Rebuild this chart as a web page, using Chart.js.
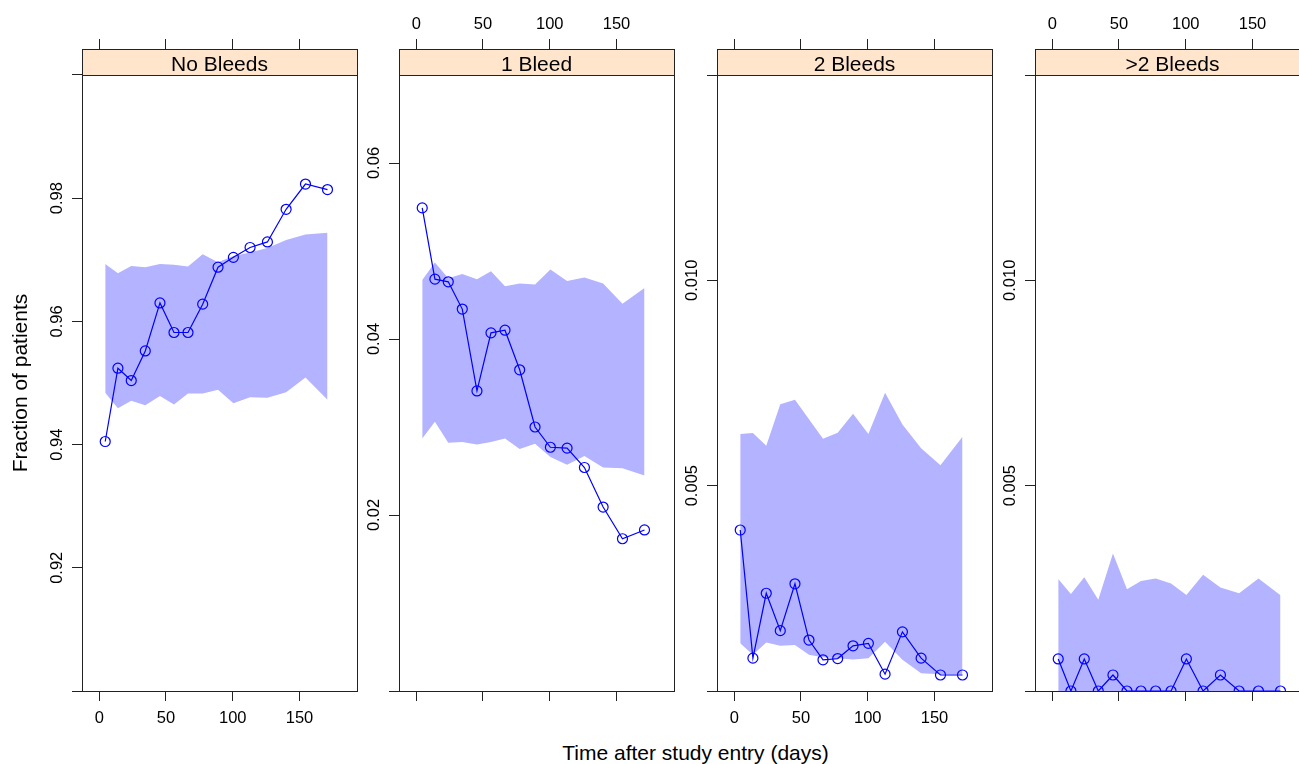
<!DOCTYPE html>
<html>
<head>
<meta charset="utf-8">
<script src="https://cdn.jsdelivr.net/npm/chart.js@4.4.1/dist/chart.umd.min.js"></script>
<style>
  html, body { margin: 0; padding: 0; background: #fff; overflow: hidden; }
  #wrap { position: relative; width: 1299px; height: 764px; overflow: hidden; }
  #wrap canvas { position: absolute; left: 0; top: 0; }
  #xtitle { position: absolute; left: 0; width: 1391px; top: 742px; text-align: center;
            font: 21px/21px "Liberation Sans", Arial, sans-serif; color: #000; }
</style>
</head>
<body>
<div id="wrap">
  <div id="xtitle">Time after study entry (days)</div>
</div>
<script>
// ---- data ----
const days = [4.5, 14, 24, 34.5, 45.5, 56, 66.5, 77.5, 89, 100.5, 113, 126, 140, 154.5, 171];
const panelNames = ['No Bleeds', '1 Bleed', '2 Bleeds', '>2 Bleeds'];

const observed1 = [0.9405, 0.9524, 0.9504, 0.9552, 0.9630, 0.9582, 0.9582, 0.9628, 0.9688, 0.9704, 0.9720, 0.9729, 0.9782, 0.9823, 0.9814];
const upper1    = [0.9693, 0.9678, 0.9690, 0.9688, 0.9693, 0.9692, 0.9689, 0.9709, 0.9696, 0.9706, 0.9712, 0.9719, 0.9732, 0.9741, 0.9744];
const lower1    = [0.9484, 0.9459, 0.9471, 0.9464, 0.9479, 0.9465, 0.9483, 0.9483, 0.9489, 0.9467, 0.9477, 0.9476, 0.9485, 0.9509, 0.9473];

const observed2 = [0.0549, 0.0468, 0.0465, 0.0434, 0.0341, 0.0407, 0.0410, 0.0365, 0.0300, 0.0277, 0.0276, 0.0254, 0.0209, 0.0173, 0.0183];
const upper2    = [0.0467, 0.0487, 0.0469, 0.0474, 0.0468, 0.0477, 0.0460, 0.0463, 0.0462, 0.0479, 0.0466, 0.0470, 0.0463, 0.0440, 0.0458];
const lower2    = [0.0287, 0.0306, 0.0282, 0.0283, 0.0280, 0.0283, 0.0287, 0.0275, 0.0281, 0.0266, 0.0257, 0.0267, 0.0254, 0.0253, 0.0245];

const observed3 = [0.00392, 0.00080, 0.00238, 0.00147, 0.00261, 0.00124, 0.00076, 0.00079, 0.00110, 0.00116, 0.00041, 0.00144, 0.00080, 0.00039, 0.00039];
const upper3    = [0.00626, 0.00628, 0.00597, 0.00698, 0.00709, 0.00662, 0.00614, 0.00629, 0.00675, 0.00626, 0.00726, 0.00649, 0.00591, 0.00550, 0.00619];
const lower3    = [0.00116, 0.00088, 0.00118, 0.00110, 0.00112, 0.00088, 0.00082, 0.00080, 0.00077, 0.00080, 0.00120, 0.00076, 0.00043, 0.00041, 0.00041];

const observed4 = [0.00078, 0, 0.00078, 0, 0.00039, 0, 0, 0, 0, 0.00078, 0, 0.00039, 0, 0, 0];
const upper4    = [0.00273, 0.00236, 0.00277, 0.00222, 0.00335, 0.00248, 0.00268, 0.00274, 0.00262, 0.00234, 0.00283, 0.00252, 0.00238, 0.00274, 0.00233];
const lower4    = [0, 0, 0, 0, 0, 0, 0, 0, 0, 0, 0, 0, 0, 0, 0];

const xRange = [-12.9, 193.1];
const xTicks = [0, 50, 100, 150];
const xTickLabels = ['0', '50', '100', '150'];

const yRange1 = [0.90, 1.00];
const yTicks1 = [0.90, 0.92, 0.94, 0.96, 0.98, 1.00];
const yTickLabels1 = ['', '0.92', '0.94', '0.96', '0.98', ''];
const yRange2 = [0, 0.07];
const yTicks2 = [0, 0.02, 0.04, 0.06];
const yTickLabels2 = ['', '0.02', '0.04', '0.06'];
const yRange34 = [0, 0.015];
const yTicks34 = [0, 0.005, 0.010, 0.015];
const yTickLabels34 = ['', '0.005', '0.010', ''];

const yTitle = 'Fraction of patients';

// ---- layout ----
const FONT = '"Liberation Sans", Arial, sans-serif';
const CANVAS_W = 1330, CANVAS_H = 764;
const panelLeft = [82, 399, 717, 1035];
const PANEL_W = 275;
const STRIP_TOP = 49, STRIP_BOTTOM = 75, PLOT_BOTTOM = 691;

Chart.defaults.font.family = FONT;
Chart.defaults.color = '#000';

const panels = [
  { obs: observed1, hi: upper1, lo: lower1, yr: yRange1, yt: yTicks1, yl: yTickLabels1, bottomLabels: true },
  { obs: observed2, hi: upper2, lo: lower2, yr: yRange2, yt: yTicks2, yl: yTickLabels2, bottomLabels: false },
  { obs: observed3, hi: upper3, lo: lower3, yr: yRange34, yt: yTicks34, yl: yTickLabels34, bottomLabels: true },
  { obs: observed4, hi: upper4, lo: lower4, yr: yRange34, yt: yTicks34, yl: yTickLabels34, bottomLabels: false }
];

const pts = arr => arr.map((v, i) => ({ x: days[i], y: v }));

// strip, box, rotated y labels
const latticePanel = {
  id: 'latticePanel',
  afterDraw(chart, args, opts) {
    const { ctx, chartArea: a } = chart;
    const ys = chart.scales.y;
    const sb = Math.round(ys.getPixelForValue(opts.yTop));
    const l = Math.round(a.left), t = Math.round(a.top), r = Math.round(a.right), b = Math.round(a.bottom);
    ctx.save();
    ctx.fillStyle = '#FFE5CC';
    ctx.fillRect(l, t, r - l, sb - t);
    ctx.strokeStyle = '#222';
    ctx.lineWidth = 1;
    ctx.strokeRect(l + 0.5, t + 0.5, r - l, b - t);
    ctx.beginPath();
    ctx.moveTo(l, sb + 0.5);
    ctx.lineTo(r + 1, sb + 0.5);
    ctx.stroke();

    ctx.fillStyle = '#000';
    ctx.textAlign = 'center';
    ctx.textBaseline = 'alphabetic';
    ctx.font = '21px ' + FONT;
    ctx.fillText(opts.name, (l + r) / 2, sb - 4.5);

    ctx.font = '16.5px ' + FONT;
    ys.ticks.forEach((tk, i) => {
      const lab = opts.yLabels[i];
      if (!lab) return;
      ctx.save();
      ctx.translate(l - 20.5, ys.getPixelForValue(tk.value));
      ctx.rotate(-Math.PI / 2);
      ctx.fillText(lab, 0, 0);
      ctx.restore();
    });

    if (opts.title) {
      ctx.font = '21px ' + FONT;
      ctx.translate(26.5, (sb + b) / 2);
      ctx.rotate(-Math.PI / 2);
      ctx.fillText(opts.title, 0, 0);
    }
    ctx.restore();
  }
};

const wrap = document.getElementById('wrap');

panels.forEach((p, k) => {
  const cv = document.createElement('canvas');
  cv.width = CANVAS_W;
  cv.height = CANVAS_H;
  wrap.appendChild(cv);

  const L = panelLeft[k];
  const yMin = p.yr[0], yTop = p.yr[1];
  // chart area reaches up into the strip; extend the scale so yTop lands on the strip edge
  const yMax = yTop + (yTop - yMin) * (STRIP_BOTTOM - STRIP_TOP) / (PLOT_BOTTOM - STRIP_BOTTOM);

  new Chart(cv.getContext('2d'), {
    type: 'line',
    data: {
      datasets: [
        { data: pts(p.lo), borderWidth: 0, borderColor: 'transparent', pointRadius: 0, fill: false, clip: 0, order: 2 },
        { data: pts(p.hi), borderWidth: 0, borderColor: 'transparent', pointRadius: 0,
          fill: '-1', backgroundColor: '#B3B3FF', clip: 0, order: 1 },
        { data: pts(p.obs), borderColor: '#0000FF', borderWidth: 1.2, fill: false, tension: 0,
          pointRadius: 5, pointHoverRadius: 5, pointBorderColor: '#0000FF',
          pointBackgroundColor: 'rgba(0,0,0,0)', pointBorderWidth: 1.2, clip: 0, order: 0 }
      ]
    },
    options: {
      responsive: false,
      animation: false,
      events: [],
      layout: { padding: { left: L - 10, right: CANVAS_W - L - PANEL_W, top: STRIP_TOP - 40, bottom: CANVAS_H - PLOT_BOTTOM - 40 } },
      plugins: {
        legend: { display: false },
        tooltip: { enabled: false },
        latticePanel: { name: panelNames[k], yTop: yTop, yLabels: p.yl, title: k === 0 ? yTitle : '' }
      },
      scales: {
        x: {
          type: 'linear', position: 'bottom', min: xRange[0], max: xRange[1],
          afterBuildTicks: s => { s.ticks = xTicks.map(v => ({ value: v })); },
          afterFit: s => { s.height = 40; },
          ticks: { display: p.bottomLabels, padding: 8, font: { size: 16.5 },
                   callback: (v, i) => xTickLabels[i] },
          grid: { display: true, drawOnChartArea: false, drawTicks: true, tickLength: 10, color: '#222' },
          border: { display: false }
        },
        x2: {
          type: 'linear', position: 'top', min: xRange[0], max: xRange[1],
          afterBuildTicks: s => { s.ticks = xTicks.map(v => ({ value: v })); },
          afterFit: s => { s.height = 40; },
          ticks: { display: !p.bottomLabels, padding: 5, font: { size: 16.5 },
                   callback: (v, i) => xTickLabels[i] },
          grid: { display: true, drawOnChartArea: false, drawTicks: true, tickLength: 10, color: '#222' },
          border: { display: false }
        },
        y: {
          type: 'linear', position: 'left', min: yMin, max: yMax,
          afterBuildTicks: s => { s.ticks = p.yt.map(v => ({ value: v })); },
          afterFit: s => { s.width = 10; },
          ticks: { display: false },
          grid: { display: true, drawOnChartArea: false, drawTicks: true, tickLength: 10, color: '#222' },
          border: { display: false }
        }
      }
    },
    plugins: [latticePanel]
  });
});
</script>
</body>
</html>
